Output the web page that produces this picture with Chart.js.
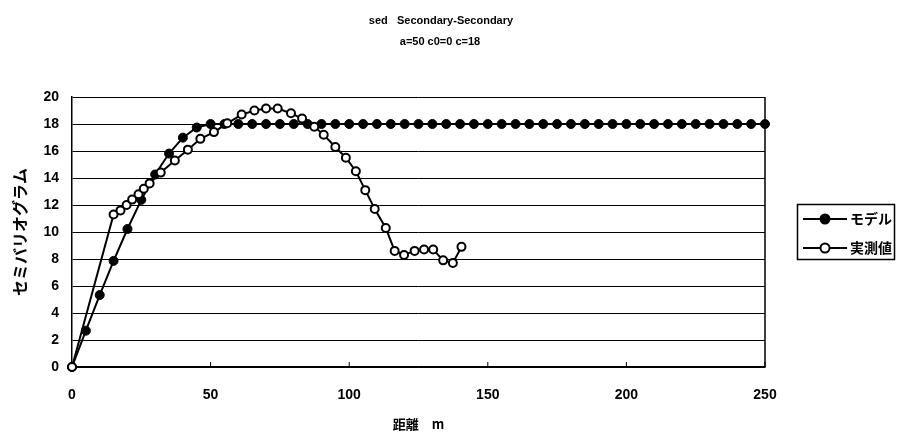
<!DOCTYPE html>
<html>
<head>
<meta charset="utf-8">
<script src="https://cdn.jsdelivr.net/npm/chart.js@4/dist/chart.umd.min.js"></script>
<style>
  html, body { margin: 0; padding: 0; background: #fff; }
</style>
</head>
<body>
<canvas id="variograma" width="912" height="439"></canvas>
<script>
// Datos
const tituloLineas = ['sed   Secondary-Secondary', 'a=50 c0=0 c=18'];
const nombresSeries = ['モデル', '実測値'];

// Modelo esférico (a=50, c=18)
const modeloX = [0, 5, 10, 15, 20, 25, 30, 35, 40, 45, 50, 55, 60, 65, 70, 75, 80, 85, 90, 95,
  100, 105, 110, 115, 120, 125, 130, 135, 140, 145, 150, 155, 160, 165, 170, 175, 180, 185, 190, 195,
  200, 205, 210, 215, 220, 225, 230, 235, 240, 245, 250];
const modeloY = [0, 2.69, 5.33, 7.86, 10.22, 12.38, 14.26, 15.81, 16.99, 17.74, 18, 18, 18, 18, 18, 18, 18, 18, 18, 18,
  18, 18, 18, 18, 18, 18, 18, 18, 18, 18, 18, 18, 18, 18, 18, 18, 18, 18, 18, 18,
  18, 18, 18, 18, 18, 18, 18, 18, 18, 18, 18];

// Valores medidos (experimentales)
const medidoX = [0, 15, 17.5, 19.7, 21.7, 24, 25.9, 28, 32, 37.1, 41.8, 46.3, 51.2, 56, 61.2, 65.8, 70, 74.2,
  79, 83, 87.4, 90.8, 95, 98.8, 102.4, 105.8, 109.2, 113.2, 116.4, 119.8, 123.6, 127, 130.3, 133.9, 137.4, 140.5];
const medidoY = [0, 11.3, 11.6, 12.0, 12.4, 12.8, 13.2, 13.6, 14.4, 15.3, 16.1, 16.9, 17.4, 18.05, 18.7, 19.0, 19.15, 19.15,
  18.8, 18.4, 17.8, 17.2, 16.3, 15.5, 14.5, 13.1, 11.7, 10.3, 8.6, 8.3, 8.6, 8.7, 8.7, 7.9, 7.7, 8.9];

const ticksX = [0, 50, 100, 150, 200, 250];
const ticksY = [0, 2, 4, 6, 8, 10, 12, 14, 16, 18, 20];

const fuenteNum = '"Liberation Sans", Arial, sans-serif';
const fuenteJa = '"Noto Sans CJK JP", sans-serif';

const aPuntos = (xs, ys) => xs.map((x, i) => ({ x: x, y: ys[i] }));

// Marco, título y leyenda dibujados a mano (como en Excel)
const marcoExcel = {
  id: 'marcoExcel',
  beforeDatasetsDraw(chart) {
    const { ctx, chartArea, scales } = chart;
    ctx.save();
    ctx.strokeStyle = '#000';
    ctx.lineWidth = 1.5;
    ctx.beginPath();
    ctx.moveTo(chartArea.right, chartArea.top);
    ctx.lineTo(chartArea.right, chartArea.bottom);
    ctx.stroke();
    // marcas pequeñas del eje x hacia dentro
    ctx.lineWidth = 1;
    ticksX.forEach(v => {
      const px = scales.x.getPixelForValue(v);
      ctx.beginPath();
      ctx.moveTo(px, chartArea.bottom);
      ctx.lineTo(px, chartArea.bottom - 5);
      ctx.stroke();
    });
    ctx.restore();
  },
  afterDraw(chart) {
    const { ctx } = chart;
    ctx.save();
    ctx.fillStyle = '#000';
    ctx.textAlign = 'center';
    ctx.textBaseline = 'middle';
    ctx.font = 'bold 11px ' + fuenteNum;
    ctx.fillText(tituloLineas[0], 441, 21);
    ctx.fillText(tituloLineas[1], 440, 42);

    // leyenda
    ctx.strokeStyle = '#000';
    ctx.lineWidth = 1.5;
    ctx.strokeRect(797.5, 204.5, 97, 55);
    const filas = [219, 248];
    filas.forEach((y, i) => {
      ctx.lineWidth = 2;
      ctx.beginPath();
      ctx.moveTo(803, y);
      ctx.lineTo(847, y);
      ctx.stroke();
      ctx.beginPath();
      ctx.arc(825, y, 4.5, 0, Math.PI * 2);
      ctx.fillStyle = i === 0 ? '#000' : '#fff';
      ctx.fill();
      ctx.stroke();
      ctx.fillStyle = '#000';
      ctx.textAlign = 'left';
      ctx.font = 'bold 14px ' + fuenteJa;
      ctx.fillText(nombresSeries[i], 850, y);
    });
    ctx.restore();
  }
};

const ctx = document.getElementById('variograma').getContext('2d');
new Chart(ctx, {
  type: 'scatter',
  data: {
    datasets: [
      {
        label: nombresSeries[1],
        data: aPuntos(medidoX, medidoY),
        showLine: true,
        borderColor: '#000',
        borderWidth: 2,
        pointRadius: 4,
        pointBorderWidth: 2,
        pointBackgroundColor: '#fff',
        pointBorderColor: '#000',
        order: 0
      },
      {
        label: nombresSeries[0],
        data: aPuntos(modeloX, modeloY),
        showLine: true,
        borderColor: '#000',
        borderWidth: 2,
        pointRadius: 4.5,
        pointBorderWidth: 1,
        pointBackgroundColor: '#000',
        pointBorderColor: '#000',
        order: 1
      }
    ]
  },
  options: {
    responsive: false,
    animation: false,
    clip: false,
    layout: { padding: { left: 0, right: 147, top: 97, bottom: 0 } },
    plugins: {
      legend: { display: false },
      title: { display: false },
      tooltip: { enabled: false }
    },
    scales: {
      x: {
        type: 'linear',
        min: 0,
        max: 250,
        afterFit: (scale) => { scale.height = 72; },
        afterBuildTicks: (scale) => { scale.ticks = ticksX.map(v => ({ value: v })); },
        grid: { display: false, drawTicks: false },
        border: { display: true, color: '#000', width: 1.5 },
        ticks: {
          color: '#000',
          padding: 20,
          maxRotation: 0,
          font: { family: fuenteNum, size: 14, weight: 'bold' }
        },
        title: {
          display: true,
          text: '距離　m',
          color: '#000',
          padding: { top: 0, bottom: 7 },
          font: { family: fuenteJa, size: 13, weight: 'bold' }
        }
      },
      y: {
        min: 0,
        max: 20,
        afterFit: (scale) => { scale.width = 72; },
        afterBuildTicks: (scale) => { scale.ticks = ticksY.map(v => ({ value: v })); },
        grid: { color: '#000', lineWidth: 1, drawTicks: false },
        border: { display: true, color: '#000', width: 1.5 },
        ticks: {
          color: '#000',
          padding: 13,
          font: { family: fuenteNum, size: 14, weight: 'bold' }
        },
        title: {
          display: true,
          text: 'セミバリオグラム',
          color: '#000',
          padding: { top: 10, bottom: 0 },
          font: { family: fuenteJa, size: 16, weight: 'bold' }
        }
      }
    }
  },
  plugins: [marcoExcel]
});
</script>
</body>
</html>
